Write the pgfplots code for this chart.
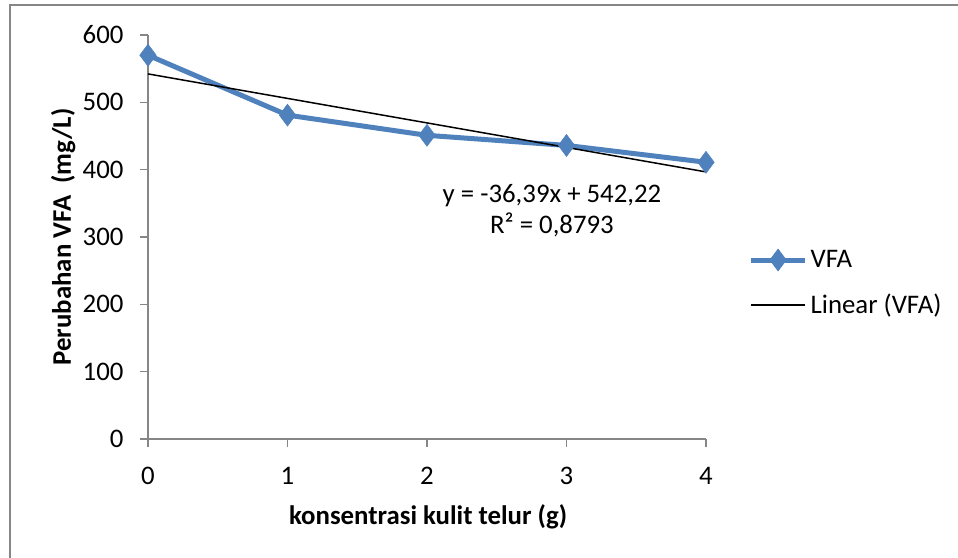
\documentclass[border=0pt]{standalone}
\usepackage{fontspec}
\setmainfont{Carlito}
\usepackage{pgfplots}
\pgfplotsset{compat=1.18}
\definecolor{vfablue}{HTML}{4F81BD}
\definecolor{axgray}{HTML}{868686}
\begin{document}
\begin{tikzpicture}
\useasboundingbox (0,0) rectangle (958bp,558bp);
\draw[axgray, line width=2bp] (9.5bp,0) -- (9.5bp,552.5bp) -- (958bp,552.5bp);
\begin{axis}[
  at={(148bp,119bp)}, anchor=south west,
  scale only axis, width=558bp, height=404bp,
  xmin=0, xmax=4, ymin=0, ymax=600,
  xtick={0,1,2,3,4}, ytick={0,100,200,300,400,500,600},
  axis lines*=left,
  axis line style={axgray, line width=1.5bp, -},
  tick style={axgray, line width=1.5bp},
  tick align=outside, major tick length=8bp,
  /pgf/number format/assume math mode=true,
  ticklabel style={font=\fontsize{26.8bp}{31bp}\selectfont},
  xticklabel style={yshift=-17bp},
  yticklabel style={xshift=-13bp},
  xlabel={\textbf{konsentrasi kulit telur (g)}},
  ylabel={\textbf{Perubahan VFA \ (mg/L)}},
  label style={font=\fontsize{26.8bp}{31bp}\selectfont},
  xlabel style={at={(axis description cs:0.502,-0.193)}, anchor=center},
  ylabel style={at={(axis description cs:-0.152,0.5)}, anchor=center, rotate=0},
  clip=false,
  legend cell align=left,
  legend style={at={(axis description cs:1.076,0.386)}, anchor=west, draw=none, fill=none,
    font=\fontsize{26.8bp}{31bp}\selectfont, row sep=19bp, inner sep=0pt,
    nodes={inner sep=3bp}},
  legend image code/.code={\draw[mark repeat=2, mark phase=2, #1] plot coordinates {(0bp,0bp) (27bp,0bp) (54bp,0bp)};},
]
\addplot[vfablue, line width=5bp, mark=diamond*, mark size=11bp, mark options={solid, fill=vfablue, line width=0.5bp}]
  coordinates {(0,570) (1,481) (2,451) (3,436) (4,411)};
\addlegendentry{VFA}
\addplot[black, line width=1.5bp]
  coordinates {(0,542.22) (4,396.66)};
\addlegendentry{Linear (VFA)}
\node[align=center, font=\fontsize{26.8bp}{31bp}\selectfont] at (axis cs:2.896,339) {y = -36,39x + 542,22\\R² = 0,8793};
\end{axis}
\end{tikzpicture}
\end{document}
